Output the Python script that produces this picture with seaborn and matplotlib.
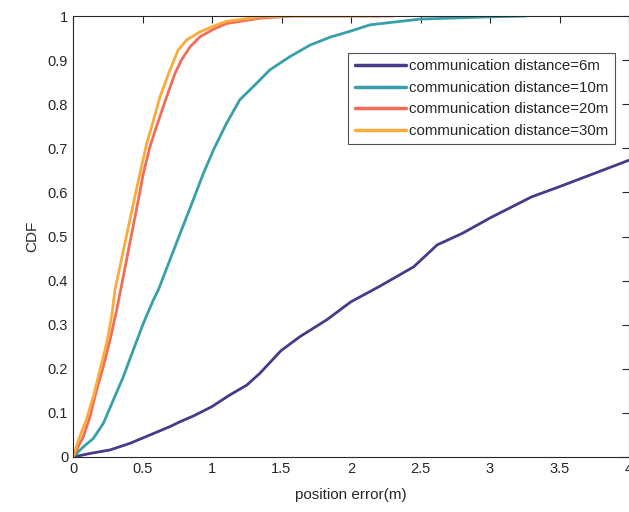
import matplotlib
matplotlib.use("Agg")
import matplotlib.pyplot as plt
import seaborn as sns
import pandas as pd

# ---- data ----
labels = ["communication distance=6m", "communication distance=10m",
          "communication distance=20m", "communication distance=30m"]

x_6m = [0, 0.122, 0.266, 0.41, 0.554, 0.698, 0.77, 0.866, 0.998, 1.13, 1.25, 1.345, 1.496,
        1.633, 1.825, 2.0, 2.2, 2.45, 2.62, 2.8, 3.0, 3.3, 3.5, 3.75, 4.0]
y_6m = [0, 0.008, 0.016, 0.031, 0.05, 0.069, 0.08, 0.093, 0.114, 0.141, 0.163, 0.19, 0.241,
        0.273, 0.311, 0.352, 0.386, 0.431, 0.481, 0.507, 0.542, 0.590, 0.613, 0.643, 0.673]

x_10m = [0, 0.074, 0.146, 0.218, 0.29, 0.362, 0.434, 0.506, 0.578, 0.614, 0.75,
         0.865, 0.938, 1.01, 1.105, 1.2, 1.297, 1.417, 1.561, 1.705, 1.85, 2.0,
         2.137, 2.5, 3.0, 3.26]
y_10m = [0, 0.023, 0.042, 0.076, 0.129, 0.182, 0.243, 0.303, 0.356, 0.379, 0.49,
         0.583, 0.643, 0.696, 0.757, 0.81, 0.84, 0.878, 0.908, 0.934, 0.952, 0.966,
         0.98, 0.993, 0.998, 1.0]

x_20m = [0, 0.074, 0.122, 0.17, 0.218, 0.266, 0.314, 0.343, 0.47, 0.506,
         0.554, 0.60, 0.674, 0.734, 0.78, 0.842, 0.914, 1.01, 1.105, 1.345, 1.58, 2.3]
y_20m = [0, 0.046, 0.091, 0.152, 0.205, 0.265, 0.333, 0.379, 0.583, 0.643,
         0.704, 0.749, 0.817, 0.87, 0.90, 0.93, 0.953, 0.97, 0.983, 0.995, 1.0, 1.0]

x_30m = [0, 0.048, 0.096, 0.146, 0.194, 0.242, 0.278, 0.302, 0.44, 0.482,
         0.53, 0.566, 0.626, 0.698, 0.757, 0.818, 0.914, 1.01, 1.105, 1.345, 1.6, 2.2]
y_30m = [0, 0.046, 0.084, 0.137, 0.197, 0.258, 0.318, 0.379, 0.583, 0.643,
         0.711, 0.749, 0.817, 0.878, 0.923, 0.946, 0.964, 0.977, 0.988, 0.998, 1.0, 1.0]

colors = ["#4a3888", "#38a0a8", "#f26d58", "#fbab3a"]

frames = []
for lab, xs, ys in zip(labels, [x_6m, x_10m, x_20m, x_30m], [y_6m, y_10m, y_20m, y_30m]):
    frames.append(pd.DataFrame({"x": xs, "y": ys, "series": lab}))
df = pd.concat(frames, ignore_index=True)

# ---- plot ----
sns.set_style("white")
plt.rcParams["font.family"] = ["Liberation Sans", "DejaVu Sans"]

fig = plt.figure(figsize=(6.29, 5.12), dpi=100)
ax = fig.add_axes([73 / 629, 55 / 512, 556 / 629, 441 / 512])

sns.lineplot(data=df, x="x", y="y", hue="series", hue_order=labels,
             palette=dict(zip(labels, colors)), estimator=None, sort=False,
             linewidth=2.0, ax=ax)

ax.set_xlim(0, 4)
ax.set_ylim(0, 1)
ax.set_xticks([0, 0.5, 1, 1.5, 2, 2.5, 3, 3.5, 4])
ax.set_xticklabels(["0", "0.5", "1", "1.5", "2", "2.5", "3", "3.5", "4"])
ax.set_yticks([i / 10 for i in range(11)])
ax.set_yticklabels(["0", "0.1", "0.2", "0.3", "0.4", "0.5", "0.6", "0.7", "0.8", "0.9", "1"])
ax.tick_params(direction="in", length=5, width=0.8, colors="#262626",
               labelsize=10.5, top=True, right=True, labelcolor="#262626")
for s in ax.spines.values():
    s.set_color("#262626")
    s.set_linewidth(0.8)

ax.set_xlabel("position error(m)", fontsize=11, color="#262626", labelpad=9)
ax.set_ylabel("CDF", fontsize=11, color="#262626", labelpad=6)

leg = ax.legend(loc="upper right", bbox_to_anchor=(615 / 556 - 73 / 556, (457 - 53) / 441),
                borderaxespad=0, fontsize=10.8,
                frameon=True, fancybox=False, edgecolor="#262626",
                handlelength=3.4, labelspacing=0.5, borderpad=0.42,
                handletextpad=0.25, title=None)
leg.get_frame().set_linewidth(0.8)
for line in leg.get_lines():
    line.set_linewidth(2.5)

fig.savefig("out.png", dpi=100)
